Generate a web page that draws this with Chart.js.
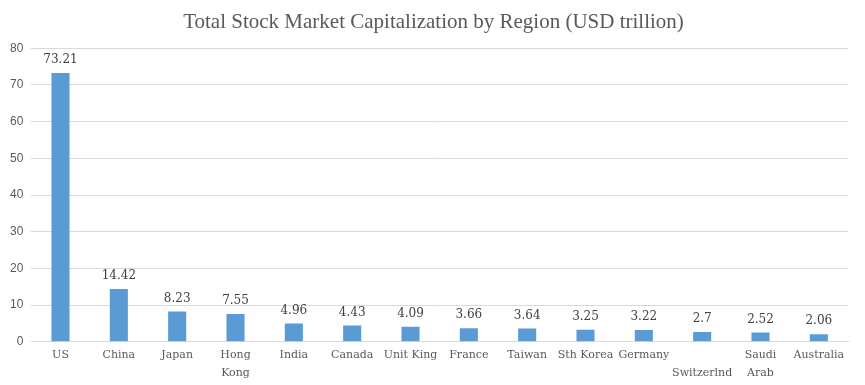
<!DOCTYPE html>
<html>
<head>
<meta charset="utf-8">
<script src="https://cdn.jsdelivr.net/npm/chart.js@4.4.0/dist/chart.umd.min.js"></script>
<style>
  html, body { margin: 0; padding: 0; background: #fff; }
  #wrap { width: 865px; height: 385px; }
</style>
</head>
<body>
<div id="wrap"><canvas id="capChart" width="865" height="385"></canvas></div>
<script>
const regions = ["US", "China", "Japan", ["Hong", "Kong"], "India", "Canada", "Unit King",
  "France", "Taiwan", "Sth Korea", "Germany", ["", "Switzerlnd"], ["Saudi", "Arab"], "Australia"];
const marketCap = [73.21, 14.42, 8.23, 7.55, 4.96, 4.43, 4.09, 3.66, 3.64, 3.25, 3.22, 2.7, 2.52, 2.06];
const yTicks = [0, 10, 20, 30, 40, 50, 60, 70, 80];

// draws the value above each bar
const valueLabels = {
  id: "valueLabels",
  afterDatasetsDraw(chart) {
    const ctx = chart.ctx;
    const meta = chart.getDatasetMeta(0);
    ctx.save();
    ctx.font = "12px 'DejaVu Serif'";
    ctx.fillStyle = "#404040";
    ctx.textAlign = "center";
    ctx.textBaseline = "bottom";
    meta.data.forEach((bar, i) => {
      ctx.fillText(String(marketCap[i]), bar.x, bar.y - 7);
    });
    ctx.restore();
  }
};

const ctx = document.getElementById("capChart").getContext("2d");
new Chart(ctx, {
  type: "bar",
  data: {
    labels: regions,
    datasets: [{
      label: "Market Cap",
      data: marketCap,
      backgroundColor: "#5B9BD5",
      categoryPercentage: 1,
      barPercentage: 0.31
    }]
  },
  options: {
    responsive: false,
    animation: false,
    layout: { padding: { left: 2, right: 0, top: 8, bottom: 6 } },
    plugins: {
      legend: { display: false },
      tooltip: { enabled: false },
      title: {
        display: true,
        text: "Total Stock Market Capitalization by Region (USD trillion)",
        color: "#595959",
        font: { family: "'Liberation Serif'", size: 21, weight: "normal" },
        padding: { top: 2, bottom: 13 }
      }
    },
    scales: {
      x: {
        grid: { display: false },
        border: { color: "#d9d9d9" },
        ticks: {
          color: "#595959",
          font: { family: "'DejaVu Serif'", size: 11, lineHeight: 1.6 },
          maxRotation: 0,
          autoSkip: false,
          padding: -3
        }
      },
      y: {
        min: 0,
        max: 80,
        afterBuildTicks(axis) {
          axis.ticks = yTicks.map(v => ({ value: v }));
        },
        grid: { color: "#d9d9d9", drawTicks: false },
        border: { display: false },
        ticks: {
          color: "#595959",
          font: { family: "'Liberation Sans'", size: 12 },
          padding: 8
        }
      },
      // empty right gutter so the title stays centred on the canvas
      gutter: {
        position: "right",
        grid: { display: false },
        border: { display: false },
        ticks: { display: false },
        afterFit(scale) { scale.width = 17; }
      }
    }
  },
  plugins: [valueLabels]
});
</script>
</body>
</html>
